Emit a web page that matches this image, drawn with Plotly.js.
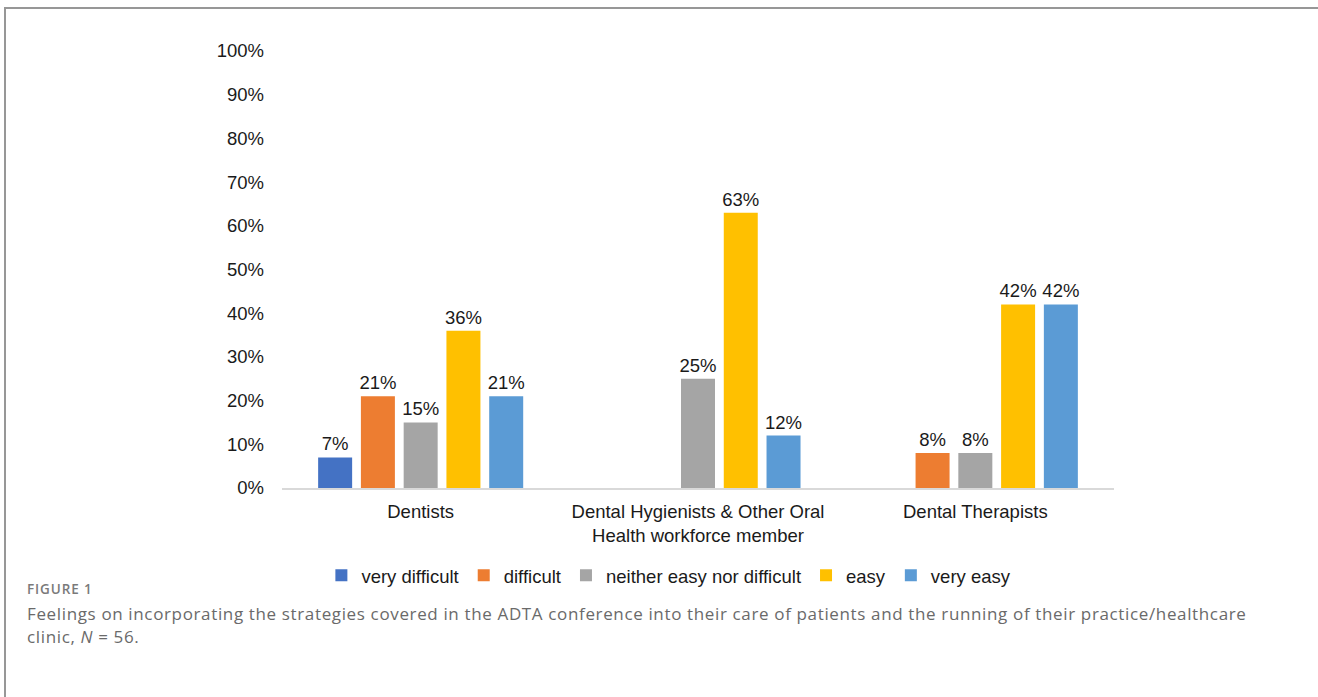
<!DOCTYPE html>
<html>
<head>
<meta charset="utf-8">
<script src="https://cdn.plot.ly/plotly-3.0.1.min.js"></script>
<style>
  html, body { margin: 0; padding: 0; width: 1318px; height: 697px; overflow: hidden; background: #fff; }
  #frame { position: absolute; left: 4px; top: 7px; width: 1400px; height: 800px; border: 2px solid #979797; box-sizing: border-box; }
  #chart { position: absolute; left: 0; top: 0; width: 1318px; height: 697px; }
  #figlabel { position: absolute; left: 27px; top: 580px; font-family: "Open Sans", sans-serif; font-weight: 600; font-size: 13.5px; color: #7a7a7a; letter-spacing: 0.9px; }
  #caption { position: absolute; left: 27px; top: 602px; width: 1290px; font-family: "Open Sans", sans-serif; font-size: 17px; line-height: 23px; color: #6a6a6a; letter-spacing: 0.64px; white-space: nowrap; }
</style>
</head>
<body>
<div id="frame"></div>
<div id="chart"></div>
<div id="figlabel">FIGURE 1</div>
<div id="caption">Feelings on incorporating the strategies covered in the ADTA conference into their care of patients and the running of their practice/healthcare<br>clinic, <i>N</i> = 56.</div>
<script>
const categories = ["Dentists", "Dental Hygienists & Other Oral Health workforce member", "Dental Therapists"];
const categoryLabels = ["Dentists", "Dental Hygienists & Other Oral<br>Health workforce member", "Dental Therapists"];
const seriesNames = ["very difficult", "difficult", "neither easy nor difficult", "easy", "very easy"];
const veryDifficult = [7, null, null];
const difficult = [21, null, 8];
const neither = [15, 25, 8];
const easy = [36, 63, 42];
const veryEasy = [21, 12, 42];
const yTickVals = [0, 10, 20, 30, 40, 50, 60, 70, 80, 90, 100];
const yTickText = ["0%", "10%", "20%", "30%", "40%", "50%", "60%", "70%", "80%", "90%", "100%"];
const colors = ["#4472C4", "#ED7D31", "#A5A5A5", "#FFC000", "#5B9BD5"];

const allSeries = [veryDifficult, difficult, neither, easy, veryEasy];
const FONT = "Liberation Sans, Arial, sans-serif";

const traces = allSeries.map((vals, i) => ({
  type: "bar",
  name: seriesNames[i],
  x: categories,
  y: vals,
  marker: { color: colors[i] },
  text: vals.map(v => (v === null ? "" : v + "%")),
  textposition: "outside",
  constraintext: "none",
  textfont: { family: FONT, size: 18.5, color: "#1a1a1a" },
  cliponaxis: false,
  hoverinfo: "skip"
}));

const layout = {
  width: 1318,
  height: 697,
  paper_bgcolor: "rgba(0,0,0,0)",
  plot_bgcolor: "rgba(0,0,0,0)",
  margin: { l: 282, r: 204, t: 51, b: 209 },
  barmode: "group",
  bargap: 0.229,
  bargroupgap: 0.205,
  font: { family: FONT, size: 18.5, color: "#1a1a1a" },
  xaxis: {
    type: "category",
    tickvals: categories,
    ticktext: categoryLabels,
    showgrid: false,
    showline: true,
    linecolor: "#d9d9d9",
    linewidth: 1.5,
    ticks: "",
    ticklabelstandoff: 6,
    tickfont: { family: FONT, size: 18.5, color: "#1a1a1a" },
    zeroline: false
  },
  yaxis: {
    range: [0, 100],
    tickvals: yTickVals,
    ticktext: yTickText,
    showgrid: false,
    showline: false,
    zeroline: false,
    ticks: "",
    ticklabelstandoff: 17,
    tickfont: { family: FONT, size: 18.5, color: "#1a1a1a" }
  },
  showlegend: true,
  legend: {
    orientation: "h",
    x: 0.465,
    xanchor: "center",
    y: -0.201,
    yanchor: "middle",
    font: { family: FONT, size: 18.5, color: "#1a1a1a" },
    itemwidth: 30,
    traceorder: "normal"
  }
};

Plotly.newPlot("chart", traces, layout, { displayModeBar: false, staticPlot: true });
</script>
</body>
</html>
